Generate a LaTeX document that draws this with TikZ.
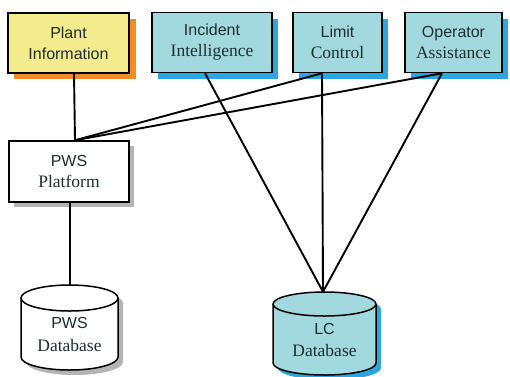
\documentclass[tikz,border=0pt]{standalone}
\usepackage{fontspec}
\setmainfont{Liberation Serif}
\setsansfont{Liberation Sans}
\definecolor{ylw}{HTML}{F4EB8E}
\definecolor{org}{HTML}{F28C28}
\definecolor{cyn}{HTML}{A2D9DE}
\definecolor{blu}{HTML}{2BA6DF}
\definecolor{gry}{HTML}{B4B4B4}
\definecolor{txt}{HTML}{1E2E2E}
\newcommand{\sa}[1]{{\sffamily\fontsize{16}{21}\selectfont #1}}
\newcommand{\se}[1]{{\rmfamily\fontsize{17.5}{21}\selectfont #1}}
\begin{document}
\begin{tikzpicture}[x=1pt,y=-1pt,
  box/.style={draw=black, line width=1.5pt, align=center, inner sep=0pt, minimum height=60pt, text=txt, font=\fontsize{16}{21}\selectfont},
  conn/.style={line width=1.9pt, draw=black},
  lbl/.style={inner sep=0pt, text=txt, anchor=base}]
\useasboundingbox (0,0) rectangle (510,376);
% shadows
\fill[org] (14,19) rectangle (136,79);
\fill[blu] (158,19) rectangle (278,79);
\fill[blu] (299,19) rectangle (388,79);
\fill[blu] (411,19) rectangle (508,79);
\fill[gry] (14,146) rectangle (134,207);
% boxes
\node[box, fill=ylw, minimum width=121pt] (plant) at (68.5,43) {\sa{Plant}\\\sa{Information}};
\node[box, fill=cyn, minimum width=120pt] (inc) at (212,42.5) {\sa{Incident}\\\se{Intelligence}};
\node[box, fill=cyn, minimum width=89pt] (lim) at (337.5,42.5) {\sa{Limit}\\\se{Control}};
\node[box, fill=cyn, minimum width=97pt] (opa) at (453.5,42.5) {\sa{Operator}\\\se{Assistance}};
\node[box, fill=white, minimum width=120pt, minimum height=61pt] (pws) at (69,171.5) {\sa{PWS}\\\se{Platform}};
% PWS database cylinder
\fill[gry] (26,303) -- (26,362) arc[start angle=180, end angle=360, x radius=48.5pt, y radius=13pt] -- (123,303) arc[start angle=0, end angle=180, x radius=48.5pt, y radius=13pt] -- cycle;
\draw[line width=1.5pt, fill=white] (21,298) -- (21,357) arc[start angle=180, end angle=360, x radius=48.5pt, y radius=13pt] -- (118,298);
\draw[line width=1.5pt, fill=white] (69.5,298) ellipse[x radius=48.5pt, y radius=13pt];
\node[inner sep=0pt, minimum width=97pt, minimum height=85pt] (pwsdb) at (69.5,327.5) {};
\node[lbl] (pwsdbt1) at (69.5,328) {\sa{PWS}};
\node[lbl] (pwsdbt2) at (69.5,351) {\se{Database}};
% LC database cylinder
\fill[blu] (278,309) -- (278,368) arc[start angle=180, end angle=360, x radius=51.5pt, y radius=12pt] -- (381,309) arc[start angle=0, end angle=180, x radius=51.5pt, y radius=12pt] -- cycle;
\draw[line width=1.5pt, fill=cyn] (273,304) -- (273,363) arc[start angle=180, end angle=360, x radius=51.5pt, y radius=12pt] -- (376,304);
\draw[line width=1.5pt, fill=cyn] (324.5,304) ellipse[x radius=51.5pt, y radius=12pt];
\node[inner sep=0pt, minimum width=103pt, minimum height=83pt] (lcdb) at (324.5,333.5) {};
\node[lbl] (lcdbt1) at (324.5,334) {\sa{LC}};
\node[lbl] (lcdbt2) at (324.5,356) {\se{Database}};
% connectors
\draw[conn] ([xshift=5.5pt]plant.south) -- ([xshift=6pt]pws.north);
\draw[conn] ([xshift=-15.5pt]lim.south) -- ([xshift=6pt]pws.north);
\draw[conn] ([xshift=-11.5pt]opa.south) -- ([xshift=6pt]pws.north);
\draw[conn] ([xshift=-7pt]inc.south) -- ([xshift=-1.5pt]lcdb.north);
\draw[conn] ([xshift=-15.5pt]lim.south) -- ([xshift=-1.5pt]lcdb.north);
\draw[conn] ([xshift=-11.5pt]opa.south) -- ([xshift=-1.5pt]lcdb.north);
\draw[conn] ([xshift=1pt]pws.south) -- ([xshift=0.5pt]pwsdb.north);
\end{tikzpicture}
\end{document}
